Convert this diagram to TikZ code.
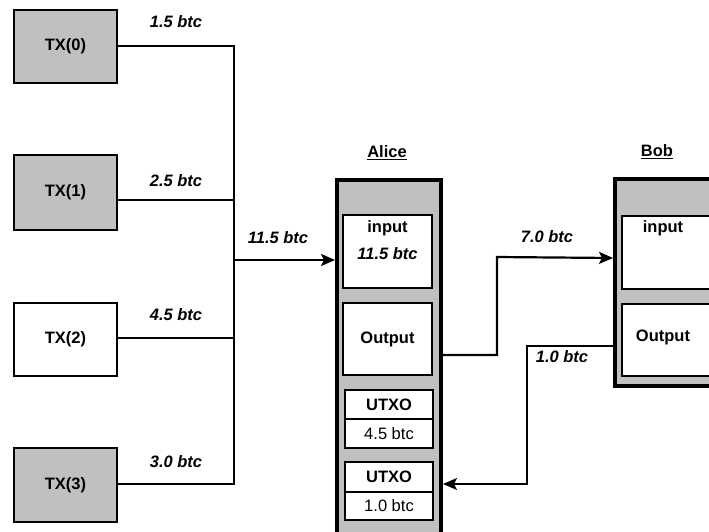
\documentclass[tikz,border=0pt]{standalone}
\usepackage{fontspec}
\setmainfont{Liberation Sans}
\usetikzlibrary{arrows.meta}
\definecolor{boxgray}{HTML}{C0C0C0}
\definecolor{shadowgray}{HTML}{D4D4D4}
\begin{document}
\begin{tikzpicture}[x=1pt,y=-1pt,
  every node/.style={font=\fontsize{16.5}{19}\selectfont},
  txbox/.style={draw,line width=2.4pt,inner sep=0pt},
  grayfill/.style={fill=boxgray},
  inbox/.style={draw,line width=2.2pt,fill=white,inner sep=0pt},
  outerbox/.style={draw,line width=4pt,fill=boxgray},
  conn/.style={line width=2.2pt},
  arr/.style={conn,-{Stealth[length=14pt,width=12pt,inset=3pt]}},
  amt/.style={font=\fontsize{16.5}{19}\selectfont\bfseries\itshape},
  ttl/.style={font=\fontsize{16.5}{19}\selectfont\bfseries},
  plain/.style={font=\fontsize{16.5}{19}\selectfont}]
\useasboundingbox (0,0) rectangle (709,531);
\fill[white] (0,0) rectangle (709,531);
% TX boxes
\node[txbox,grayfill,minimum width=103pt,minimum height=73pt] (tx0) at (65.5,46.5) {\bfseries TX(0)};
\node[txbox,grayfill,minimum width=103pt,minimum height=75pt] (tx1) at (65.5,192.5) {\bfseries TX(1)};
\node[txbox,fill=white,minimum width=103pt,minimum height=73pt] (tx2) at (65.5,339.5) {\bfseries TX(2)};
\node[txbox,grayfill,minimum width=103pt,minimum height=74pt] (tx3) at (65.5,485) {\bfseries TX(3)};
% Alice
\fill[shadowgray] (339,182) rectangle (443,540);
\node[outerbox,minimum width=104pt,minimum height=360pt,anchor=north west] (alice) at (335,178) {};
\node[ttl] (alicet) at (387,153) {\underline{Alice}};
\node[inbox,minimum width=89pt,minimum height=73pt] (ain) at (387.5,251.5) {};
\node[ttl] (aint) at (387.5,228) {input};
\node[amt] (ainv) at (387.5,254) {11.5 btc};
\node[inbox,minimum width=89pt,minimum height=72pt] (aout) at (387.5,339) {\bfseries Output};
\node[inbox,minimum width=88pt,minimum height=29pt] (u1h) at (389,404.5) {\bfseries UTXO};
\node[inbox,minimum width=88pt,minimum height=29pt] (u1v) at (389,433.5) {4.5 btc};
\node[inbox,minimum width=88pt,minimum height=30pt] (u2h) at (389,477) {\bfseries UTXO};
\node[inbox,minimum width=88pt,minimum height=28pt] (u2v) at (389,506) {1.0 btc};
% Bob
\fill[shadowgray] (617,181) rectangle (730,388);
\node[outerbox,minimum width=110pt,minimum height=207pt,anchor=north west] (bob) at (613,177) {};
\node[ttl] (bobt) at (657,152) {\underline{Bob}};
\node[inbox,minimum width=100pt,minimum height=73pt,anchor=north west] (bin) at (621,215) {};
\node[ttl] (bint) at (663,228) {input};
\node[inbox,minimum width=100pt,minimum height=72pt,anchor=north west] (bout) at (621,303) {};
\node[ttl] (boutt) at (663,337) {Output};
% bus
\coordinate (j0) at (234,46);
\coordinate (j1) at (234,200);
\coordinate (j2) at (234,338);
\coordinate (j3) at (234,484);
\coordinate (jm) at (234,260);
\draw[conn] (tx0.east |- j0) -- (j0) -- (j3) -- (tx3.east |- j3);
\draw[conn] (tx1.east |- j1) -- (j1);
\draw[conn] (tx2.east |- j2) -- (j2);
\draw[arr] (jm) -- (alice.west |- jm);
\node[amt] (l0) at (176,22) {1.5 btc};
\node[amt] (l1) at (176,181) {2.5 btc};
\node[amt] (l2) at (176,315) {4.5 btc};
\node[amt] (l3) at (176,462) {3.0 btc};
\node[amt] (lm) at (278,238) {11.5 btc};
% Alice -> Bob
\coordinate (a1) at (497,355);
\coordinate (a2) at (497,257);
\draw[arr] (alice.east |- a1) -- (a1) -- (a2) -- (bob.west |- 0,258);
\node[amt] (l7) at (547,237) {7.0 btc};
% Bob -> Alice
\coordinate (b1) at (527,346);
\coordinate (b2) at (527,484);
\draw[arr] (bob.west |- b1) -- (b1) -- (b2) -- (alice.east |- b2);
\node[amt] (l10) at (562,357) {1.0 btc};
\end{tikzpicture}
\end{document}
